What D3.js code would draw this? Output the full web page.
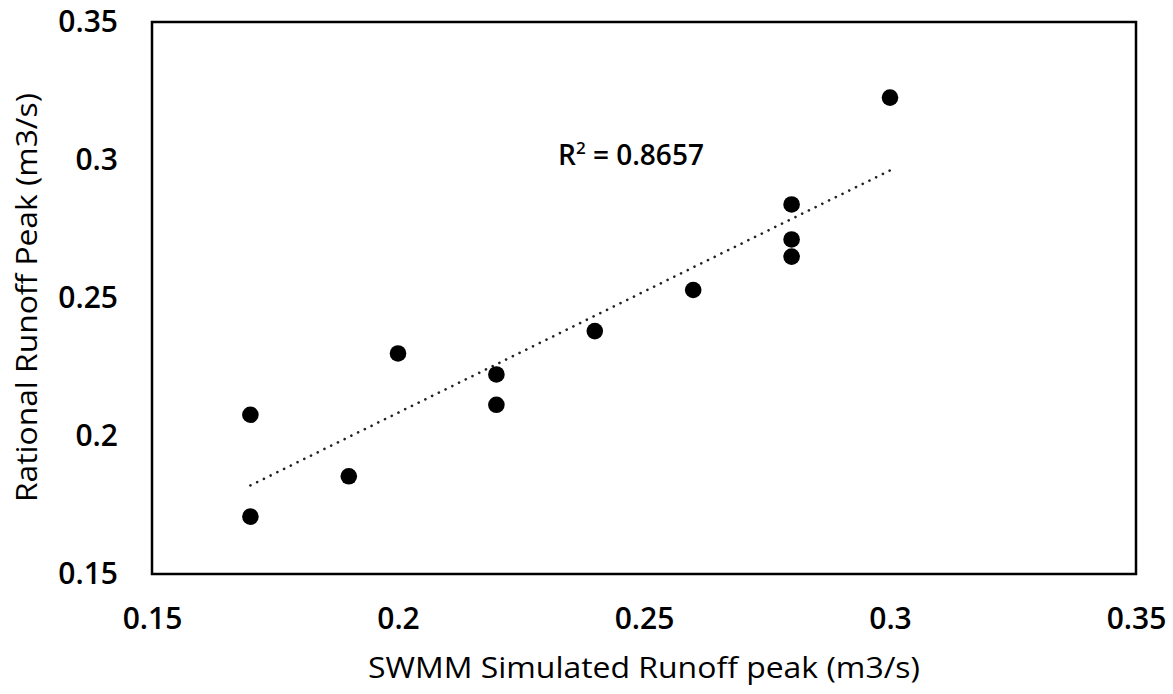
<!DOCTYPE html>
<html>
<head>
<meta charset="utf-8">
<script src="https://cdn.jsdelivr.net/npm/d3@7"></script>
<style>
  body { margin: 0; background: #fff; }
  svg { display: block; font-family: "Open Sans", sans-serif; }
</style>
</head>
<body>
<svg id="chart" width="1173" height="694"></svg>
<script>
// SWMM simulated peak (x) vs rational method peak (y), m3/s
var swmmPeak     = [0.17, 0.17, 0.19, 0.20, 0.22, 0.22, 0.24, 0.26, 0.28, 0.28, 0.28, 0.30];
var rationalPeak = [0.2077, 0.1708, 0.1854, 0.2299, 0.2223, 0.2113, 0.2380, 0.2529, 0.2839, 0.2712, 0.2650, 0.3226];
var xTicks = [0.15, 0.2, 0.25, 0.3, 0.35];
var yTicks = [0.15, 0.2, 0.25, 0.3, 0.35];
var rSquared = "0.8657";

var margin = {top: 22, right: 37, bottom: 120, left: 152};
var width = 1173 - margin.left - margin.right,
    height = 694 - margin.top - margin.bottom;

var svg = d3.select("#chart");
var g = svg.append("g")
  .attr("transform", "translate(" + margin.left + "," + margin.top + ")");

var x = d3.scaleLinear().domain([0.15, 0.35]).range([0, width]);
var y = d3.scaleLinear().domain([0.15, 0.35]).range([height, 0]);

var fmt = function(d) { return String(+d.toFixed(2)); };

// axes (labels only, no tick marks)
var xAxis = g.append("g")
  .attr("transform", "translate(0," + height + ")")
  .call(d3.axisBottom(x).tickValues(xTicks).tickFormat(fmt).tickSize(0).tickPadding(34));
var yAxis = g.append("g")
  .call(d3.axisLeft(y).tickValues(yTicks).tickFormat(fmt).tickSize(0).tickPadding(34));

[xAxis, yAxis].forEach(function(a) {
  a.select(".domain").remove();
  a.selectAll("text")
    .attr("font-family", "'Open Sans', sans-serif")
    .attr("font-size", 30)
    .attr("font-weight", 600)
    .attr("fill", "#000");
});

// plot frame
g.append("rect")
  .attr("width", width)
  .attr("height", height)
  .attr("fill", "none")
  .attr("stroke", "#000")
  .attr("stroke-width", 2.5);

// linear trend line (least squares)
var n = swmmPeak.length;
var mx = d3.mean(swmmPeak), my = d3.mean(rationalPeak);
var sxy = 0, sxx = 0;
for (var i = 0; i < n; i++) {
  sxy += (swmmPeak[i] - mx) * (rationalPeak[i] - my);
  sxx += (swmmPeak[i] - mx) * (swmmPeak[i] - mx);
}
var slope = sxy / sxx, icpt = my - slope * mx;
var xr = d3.extent(swmmPeak);

g.append("line")
  .attr("x1", x(xr[0])).attr("y1", y(icpt + slope * xr[0]))
  .attr("x2", x(xr[1])).attr("y2", y(icpt + slope * xr[1]))
  .attr("stroke", "#222")
  .attr("stroke-width", 2.6)
  .attr("stroke-linecap", "round")
  .attr("stroke-dasharray", "0.1 7.4");

// points
g.selectAll("circle.pt")
  .data(d3.range(n))
  .enter().append("circle")
  .attr("class", "pt")
  .attr("cx", function(i) { return x(swmmPeak[i]); })
  .attr("cy", function(i) { return y(rationalPeak[i]); })
  .attr("r", 8.3)
  .attr("fill", "#000");

// R² label
var rl = g.append("text")
  .attr("x", 558 - margin.left)
  .attr("y", 165 - margin.top)
  .attr("font-size", 28)
  .attr("font-weight", 600)
  .attr("fill", "#000");
rl.append("tspan").text("R");
rl.append("tspan").attr("font-size", 17).attr("dy", -11).text("2");
rl.append("tspan").attr("dy", 11).text(" = " + rSquared);

// axis titles
svg.append("text")
  .attr("x", 368)
  .attr("y", 678)
  .attr("font-size", 29)
  .attr("textLength", 552)
  .attr("lengthAdjust", "spacingAndGlyphs")
  .attr("fill", "#000")
  .text("SWMM Simulated Runoff peak (m3/s)");

svg.append("text")
  .attr("transform", "translate(37,502) rotate(-90)")
  .attr("font-size", 29)
  .attr("textLength", 409)
  .attr("lengthAdjust", "spacingAndGlyphs")
  .attr("fill", "#000")
  .text("Rational Runoff Peak (m3/s)");
</script>
</body>
</html>
